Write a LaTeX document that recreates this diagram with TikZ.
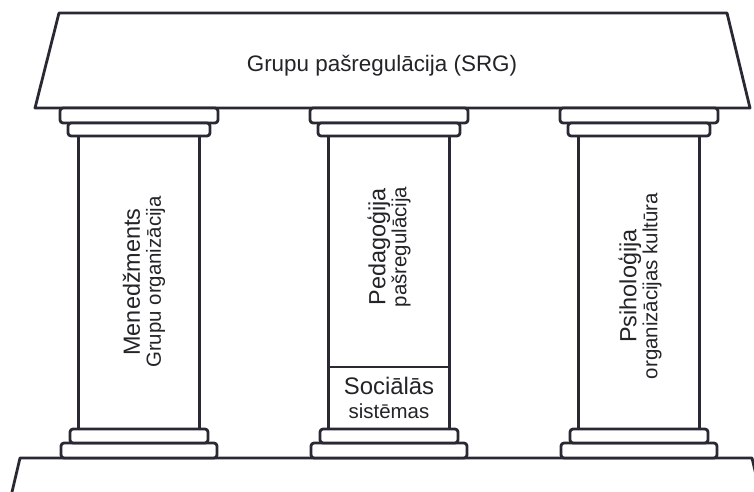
\documentclass[tikz,border=0pt]{standalone}
\usepackage{fontspec}
\setmainfont{Liberation Sans}
\usetikzlibrary{positioning}

\definecolor{inkline}{RGB}{42,41,51}
\definecolor{inktext}{RGB}{35,35,40}
\newcommand{\subtxt}[1]{{\fontsize{20.5pt}{20pt}\selectfont #1}}

\begin{document}
\begin{tikzpicture}[
  x=1bp, y=-1bp,
  line width=2.8bp,
  part/.style={draw=inkline,fill=white,line join=round},
  slab/.style={part,rounded corners=3bp},
  pillartext/.style={text=inktext,align=center,rotate=90,
    font={\lineskiplimit=-50pt\fontsize{23.5pt}{21pt}\selectfont}},
  roomtext/.style={text=inktext,align=center,
    font={\lineskiplimit=-50pt\fontsize{24pt}{24pt}\selectfont}}
]
\useasboundingbox (0,0) rectangle (754,492);
\clip (0,0) rectangle (754,492);

% platform, cut by the lower edge
\draw[part] (12,492) -- (20,458) -- (752,458) -- (760,492);

% roof
\draw[part] (59,13) -- (727,13) -- (750,108) -- (35,108) -- cycle;

% pillars: shaft, capital, base
\foreach \cx in {139,389,639}{
  \draw[part] (\cx-60.5,136) rectangle (\cx+60.5,429);
  \draw[slab] (\cx-79,108) rectangle (\cx+79,123);
  \draw[slab] (\cx-71,123) rectangle (\cx+71,136);
  \draw[slab] (\cx-78,458) rectangle (\cx+78,443);
  \draw[slab] (\cx-69,443) rectangle (\cx+69,429);
}
\draw[draw=inkline,line width=2.4bp] (328.5,367) -- (449.5,367);

\node[roomtext,font=\fontsize{22.5pt}{24pt}\selectfont] (srg) at (382,66) {Grupu pašregulācija (SRG)};
\node[pillartext] (mgmt) at (144,282) {Menedžments\\\subtxt{Grupu organizācija}};
\node[pillartext] (ped) at (389,247) {Pedagoģija\\\subtxt{pašregulācija}};
\node[pillartext] (psy) at (640,286) {Psiholoģija\\\subtxt{organizācijas kultūra}};
\node[roomtext] (soc) at (389,398) {Sociālās\\\subtxt{sistēmas}};
\end{tikzpicture}
\end{document}
